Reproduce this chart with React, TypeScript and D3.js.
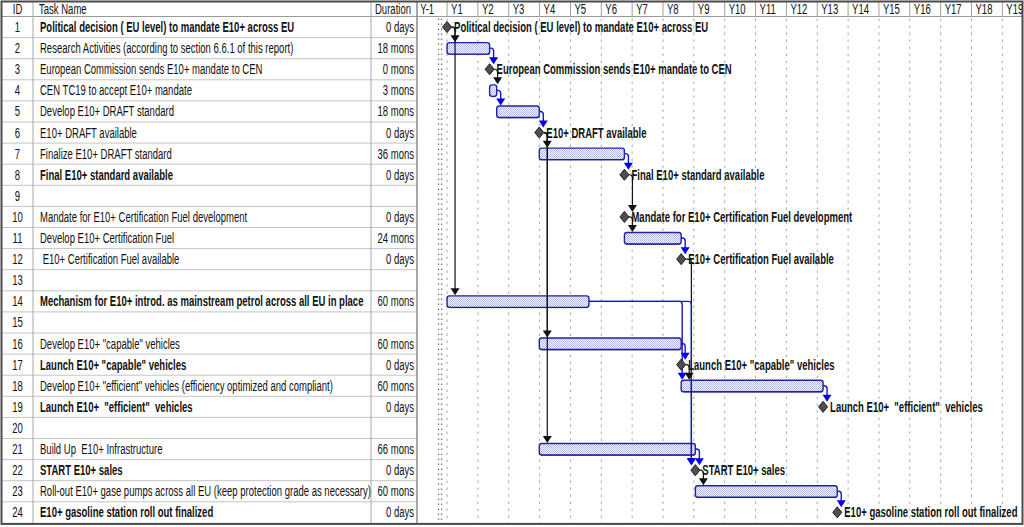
import React from "react";
import * as d3 from "d3";

// ---------- data ----------
const taskIds = [1,2,3,4,5,6,7,8,9,10,11,12,13,14,15,16,17,18,19,20,21,22,23,24];
const taskNames = [
  "Political decision ( EU level) to mandate E10+ across EU",
  "Research Activities (according to section 6.6.1 of this report)",
  "European Commission sends E10+ mandate to CEN",
  "CEN TC19 to accept E10+ mandate",
  "Develop E10+ DRAFT standard",
  "E10+ DRAFT available",
  "Finalize E10+ DRAFT standard",
  "Final E10+ standard available",
  "",
  "Mandate for E10+ Certification Fuel development",
  "Develop E10+ Certification Fuel",
  " E10+ Certification Fuel available",
  "",
  "Mechanism for E10+ introd. as mainstream petrol across all EU in place",
  "",
  "Develop E10+ \"capable\" vehicles",
  "Launch E10+ \"capable\" vehicles",
  "Develop E10+ \"efficient\" vehicles (efficiency optimized and compliant)",
  "Launch E10+  \"efficient\"  vehicles",
  "",
  "Build Up  E10+ Infrastructure",
  "START E10+ sales",
  "Roll-out E10+ gase pumps across all EU (keep protection grade as necessary)",
  "E10+ gasoline station roll out finalized",
];
const durationLabels = [
  "0 days","18 mons","0 mons","3 mons","18 mons","0 days","36 mons","0 days","",
  "0 days","24 mons","0 days","","60 mons","","60 mons","0 days","60 mons","0 days","",
  "66 mons","0 days","60 mons","0 days",
];
// durations in project "mons" (20 working days); null = empty row
const durationMons: (number | null)[] = [
  0,18,0,3,18,0,36,0,null,0,24,0,null,60,null,60,0,60,0,null,66,0,60,0,
];
const boldIds = [1,8,14,17,19,22,24];
// [predecessor, successor]
const links: [number, number][] = [
  [1,2],[1,14],[2,3],[3,4],[4,5],[5,6],[6,7],[6,16],[6,21],[7,8],[8,10],[10,11],[11,12],
  [12,22],[14,18],[14,22],[16,17],[17,18],[18,19],[21,22],[22,23],[23,24],
];
const milestoneLabels: Record<number, string> = {
  1: "Political decision ( EU level) to mandate E10+ across EU",
  3: "European Commission sends E10+ mandate to CEN",
  6: "E10+ DRAFT available",
  8: "Final E10+ standard available",
  10: "Mandate for E10+ Certification Fuel development",
  12: "E10+ Certification Fuel available",
  17: "Launch E10+ \"capable\" vehicles",
  19: "Launch E10+  \"efficient\"  vehicles",
  22: "START E10+ sales",
  24: "E10+ gasoline station roll out finalized",
};
const yearLabels = ["Y-1","Y1","Y2","Y3","Y4","Y5","Y6","Y7","Y8","Y9","Y10","Y11","Y12","Y13","Y14","Y15","Y16","Y17","Y18","Y19"];

// ---------- schedule ----------
type T = { id: number; start: number; end: number; ms: boolean; empty: boolean };
const sched: Record<number, T> = {};
taskIds.forEach((id, i) => {
  const d = durationMons[i];
  const preds = links.filter(l => l[1] === id).map(l => sched[l[0]].end);
  const start = preds.length ? Math.max(...preds) : 0;
  sched[id] = { id, start, end: start + (d ?? 0), ms: d === 0, empty: d === null };
});

// ---------- layout ----------
const W = 1024, H = 527;
const FONT = "'Liberation Sans', Arial, sans-serif";
const FS = 14;
const SX = 0.68;
const yearMons = 365.25 / 28;
const x = d3.scaleLinear().domain([-yearMons, 19 * yearMons]).range([416.2, 416.2 + 20 * 30.85]);
const row = d3.scaleLinear().domain([0, 24]).range([16.5, 16.5 + 24 * 21.1]);
const cy = (id: number) => row(id - 0.5);
const colX = { idL: 2, name: 33, dur: 371, chart: 417, right: 1022 };
const bottom = row(24);

function Txt(props: { x: number; y: number; s: string; bold?: boolean; anchor?: string; fill?: string }) {
  return (
    <text
      transform={`translate(${props.x},${props.y}) scale(${SX},1)`}
      fontFamily={FONT}
      fontSize={FS}
      fontWeight={props.bold ? "bold" : "normal"}
      textAnchor={props.anchor || "start"}
      fill={props.fill || "#111"}
      style={{ whiteSpace: "pre" }}
    >
      {props.s}
    </text>
  );
}

export default function App() {
  const years = d3.range(-1, 19).map(k => (k === -1 ? -yearMons : k * yearMons));

  const linkEls = links.map(([p, s], i) => {
    const P = sched[p], S = sched[s];
    const yp = cy(p);
    const xe = x(P.end), xs = x(S.start);
    const tip = cy(s) - (S.ms ? 5 : 6);
    let ax: number;
    if (xs > xe + 10) ax = S.ms ? xs - 4 : xs + 1;
    else ax = P.ms ? xe + 8 : xe + 4;
    const sx = P.ms ? xe + 4.5 : xe;
    const color = P.ms ? "#111" : "#1818c8";
    const triColor = P.ms ? "#111" : "#0000ee";
    const r = Math.min(3, Math.max(0, ax - sx));
    const d = `M${sx},${yp} H${ax - r} Q${ax},${yp} ${ax},${yp + r} V${tip - 6}`;
    return (
      <g key={`l${i}`}>
        <path d={d} fill="none" stroke={color} strokeWidth={P.ms ? 1.2 : 1.4} />
        <path d={`M${ax - 4.5},${tip - 7} L${ax + 4.5},${tip - 7} L${ax},${tip} Z`} fill={triColor} />
      </g>
    );
  });

  return (
    <svg width={W} height={H} style={{ position: "absolute", left: 0, top: 0, background: "#fff" }}>
      <defs>
        <pattern id="hatch" width="2" height="2" patternUnits="userSpaceOnUse">
          <rect width="2" height="2" fill="#f7f8fd" />
          <rect width="1" height="1" fill="#b3bae6" />
          <rect x="1" y="1" width="1" height="1" fill="#b3bae6" />
        </pattern>
        <clipPath id="chartClip">
          <rect x={colX.chart} y={0} width={colX.right - colX.chart} height={H} />
        </clipPath>
      </defs>
      <rect x={0} y={0} width={W} height={H} fill="#fff" />

      {/* table row lines */}
      {d3.range(1, 24).map(i => (
        <line key={`r${i}`} x1={colX.idL} x2={colX.chart} y1={row(i)} y2={row(i)} stroke="#c4c4c4" strokeWidth={1} />
      ))}
      <line x1={colX.idL} x2={colX.right} y1={row(0)} y2={row(0)} stroke="#9a9a9a" strokeWidth={1.2} />
      {[colX.name, colX.dur].map((v, i) => (
        <line key={`c${i}`} x1={v} x2={v} y1={2} y2={bottom} stroke="#a8a8a8" strokeWidth={1} />
      ))}
      <line x1={colX.chart} x2={colX.chart} y1={2} y2={bottom} stroke="#8a8a8a" strokeWidth={1.5} />

      {/* timeline gridlines */}
      <g clipPath="url(#chartClip)">
        {years.slice(1).map((m, i) => (
          <line key={`g${i}`} x1={x(m)} x2={x(m)} y1={row(0) + 2} y2={bottom} stroke="#a8a8a8" strokeWidth={1} strokeDasharray="2.5,4.5" />
        ))}
        {[-3.6, -2.3].map((m, i) => (
          <line key={`ps${i}`} x1={x(m)} x2={x(m)} y1={row(0) + 2} y2={bottom} stroke="#777" strokeWidth={1.3} strokeDasharray="1.5,3.5" />
        ))}
        {years.map((m, i) => (
          <g key={`yh${i}`}>
            {i > 0 && <line x1={x(m)} x2={x(m)} y1={2} y2={row(0)} stroke="#a0a0a0" strokeWidth={1} />}
            <Txt x={x(m) + 4} y={13.5} s={yearLabels[i]} />
          </g>
        ))}
      </g>

      {/* header */}
      <Txt x={17.5} y={13.5} s="ID" anchor="middle" />
      <Txt x={39} y={13.5} s="Task Name" />
      <Txt x={375} y={13.5} s="Duration" />

      {/* table rows */}
      {taskIds.map((id, i) => (
        <g key={`t${id}`}>
          <Txt x={17.5} y={cy(id) + 5} s={String(id)} anchor="middle" />
          <Txt x={40} y={cy(id) + 5} s={taskNames[i]} bold={boldIds.includes(id)} />
          <Txt x={414} y={cy(id) + 5} s={durationLabels[i]} anchor="end" />
        </g>
      ))}

      {/* bars */}
      {taskIds.filter(id => !sched[id].ms && !sched[id].empty).map(id => {
        const t = sched[id];
        const c = cy(id);
        return (
          <g key={`b${id}`}>
            <rect x={x(t.start)} y={c - 5.5} width={x(t.end) - x(t.start)} height={11.5} rx={2.5}
              fill="url(#hatch)" stroke="#2222a6" strokeWidth={1.4} />
            <line x1={x(t.start) + 2} x2={x(t.end) - 1} y1={c + 6.3} y2={c + 6.3} stroke="#1a1a70" strokeWidth={1} opacity={0.6} />
          </g>
        );
      })}

      {/* links */}
      {linkEls}

      {/* milestones */}
      {taskIds.filter(id => sched[id].ms).map(id => {
        const xm = x(sched[id].start);
        const c = cy(id);
        return (
          <g key={`m${id}`}>
            <path d={`M${xm},${c - 5.5} L${xm + 4.5},${c} L${xm},${c + 5.5} L${xm - 4.5},${c} Z`} fill="#4e4e4e" stroke="#1e1e1e" strokeWidth={1} />
            <Txt x={xm + 7} y={c + 5} s={milestoneLabels[id]} bold />
          </g>
        );
      })}

      {/* outer border */}
      <rect x={1.5} y={1.5} width={colX.right - 1} height={bottom - 0.5} fill="none" stroke="#4a4a4a" strokeWidth={2} />
    </svg>
  );
}
